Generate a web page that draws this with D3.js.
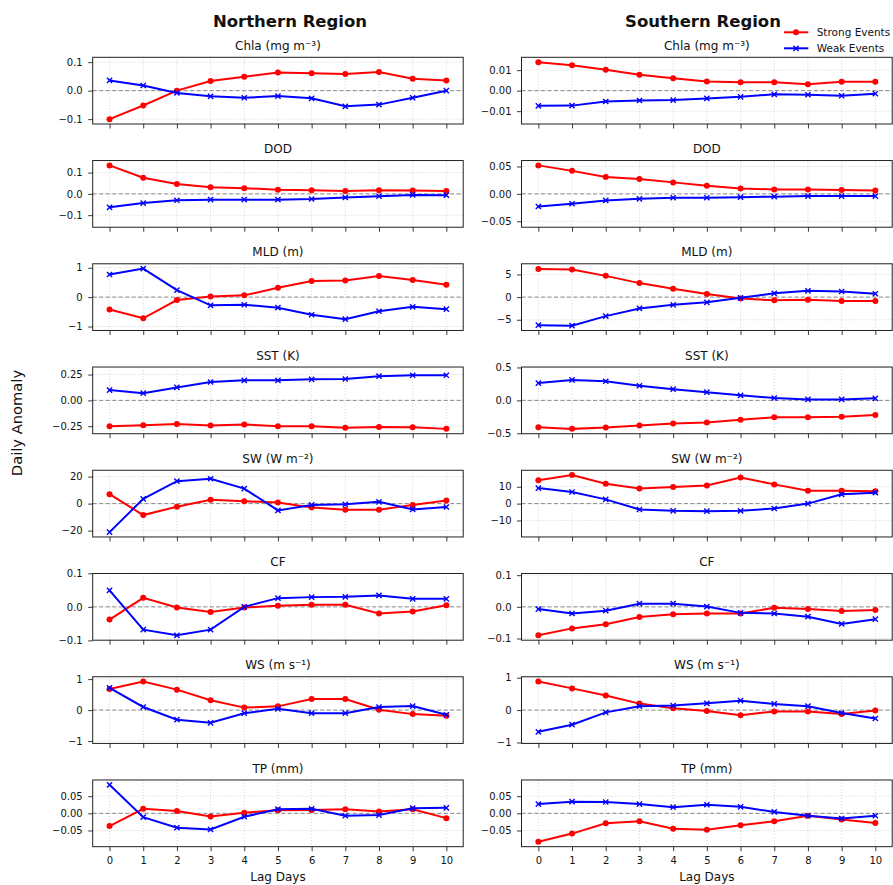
<!DOCTYPE html>
<html><head><meta charset="utf-8">
<script src="https://cdn.jsdelivr.net/npm/d3@7"></script>
<style>
body{margin:0;background:#fff}
text{font-family:"DejaVu Sans",sans-serif;fill:#111}
</style>
</head><body>
<svg id="chart" width="893" height="885"></svg>
<script>
// ---------- DATA ----------
const lags = [0,1,2,3,4,5,6,7,8,9,10];
const regions = ["Northern Region", "Southern Region"];
const seriesNames = ["Strong Events", "Weak Events"];
const variables = ["Chla (mg m\u207B\u00B3)", "DOD", "MLD (m)", "SST (K)", "SW (W m\u207B\u00B2)", "CF", "WS (m s\u207B\u00B9)", "TP (mm)"];

// Northern region
const chlaNorthStrong = [-0.100,-0.052,0.000,0.034,0.049,0.064,0.061,0.058,0.065,0.042,0.036];
const chlaNorthWeak   = [0.036,0.018,-0.008,-0.020,-0.025,-0.019,-0.027,-0.055,-0.049,-0.025,0.000];
const dodNorthStrong  = [0.134,0.076,0.046,0.031,0.027,0.020,0.017,0.014,0.017,0.016,0.014];
const dodNorthWeak    = [-0.063,-0.043,-0.030,-0.027,-0.027,-0.027,-0.024,-0.017,-0.011,-0.005,-0.006];
const mldNorthStrong  = [-0.42,-0.72,-0.10,0.02,0.06,0.32,0.55,0.57,0.72,0.58,0.42];
const mldNorthWeak    = [0.77,0.97,0.24,-0.28,-0.26,-0.36,-0.60,-0.75,-0.48,-0.33,-0.41];
const sstNorthStrong  = [-0.250,-0.240,-0.230,-0.243,-0.234,-0.250,-0.250,-0.266,-0.257,-0.260,-0.276];
const sstNorthWeak    = [0.100,0.070,0.125,0.178,0.194,0.194,0.204,0.207,0.234,0.243,0.243];
const swNorthStrong   = [7.0,-8.5,-2.3,2.8,1.8,0.8,-2.8,-4.5,-4.5,-1.0,2.3];
const swNorthWeak     = [-21.1,3.5,16.6,18.4,11.1,-5.0,-1.0,-0.5,1.3,-4.3,-2.5];
const cfNorthStrong   = [-0.038,0.027,-0.002,-0.015,-0.002,0.003,0.006,0.006,-0.020,-0.014,0.005];
const cfNorthWeak     = [0.049,-0.068,-0.085,-0.068,0.000,0.026,0.029,0.030,0.034,0.024,0.024];
const wsNorthStrong   = [0.68,0.92,0.66,0.32,0.08,0.12,0.36,0.36,0.01,-0.13,-0.18];
const wsNorthWeak     = [0.72,0.10,-0.31,-0.41,-0.10,0.04,-0.10,-0.10,0.10,0.13,-0.15];
const tpNorthStrong   = [-0.037,0.013,0.007,-0.009,0.002,0.009,0.010,0.012,0.005,0.012,-0.014];
const tpNorthWeak     = [0.083,-0.011,-0.042,-0.047,-0.010,0.012,0.013,-0.007,-0.005,0.015,0.016];

// Southern region
const chlaSouthStrong = [0.0139,0.0124,0.0102,0.0078,0.0060,0.0045,0.0041,0.0041,0.0031,0.0043,0.0043];
const chlaSouthWeak   = [-0.0074,-0.0073,-0.0053,-0.0048,-0.0046,-0.0038,-0.0030,-0.0018,-0.0020,-0.0025,-0.0015];
const dodSouthStrong  = [0.052,0.042,0.031,0.027,0.021,0.015,0.010,0.008,0.008,0.007,0.006];
const dodSouthWeak    = [-0.023,-0.018,-0.012,-0.009,-0.007,-0.007,-0.006,-0.005,-0.004,-0.004,-0.004];
const mldSouthStrong  = [6.2,6.1,4.7,3.1,1.85,0.7,-0.3,-0.7,-0.6,-0.85,-0.85];
const mldSouthWeak    = [-6.2,-6.3,-4.2,-2.5,-1.7,-1.15,-0.15,0.85,1.4,1.25,0.75];
const sstSouthStrong  = [-0.407,-0.433,-0.412,-0.380,-0.350,-0.335,-0.294,-0.258,-0.258,-0.247,-0.222];
const sstSouthWeak    = [0.263,0.310,0.290,0.222,0.170,0.124,0.077,0.036,0.015,0.015,0.031];
const swSouthStrong   = [13.9,16.9,11.8,9.0,9.8,10.8,15.5,11.4,7.6,7.6,7.3];
const swSouthWeak     = [9.2,6.9,2.5,-3.5,-4.3,-4.5,-4.3,-2.9,0.0,5.5,6.5];
const cfSouthStrong   = [-0.090,-0.068,-0.055,-0.032,-0.023,-0.021,-0.021,-0.003,-0.007,-0.013,-0.010];
const cfSouthWeak     = [-0.007,-0.021,-0.012,0.010,0.010,0.001,-0.019,-0.021,-0.031,-0.054,-0.039];
const wsSouthStrong   = [0.88,0.67,0.45,0.20,0.06,-0.03,-0.16,-0.04,-0.04,-0.12,-0.01];
const wsSouthWeak     = [-0.67,-0.45,-0.07,0.12,0.14,0.21,0.29,0.19,0.12,-0.09,-0.26];
const tpSouthStrong   = [-0.083,-0.059,-0.029,-0.023,-0.045,-0.048,-0.035,-0.023,-0.007,-0.018,-0.028];
const tpSouthWeak     = [0.027,0.034,0.033,0.027,0.018,0.025,0.019,0.004,-0.007,-0.015,-0.007];

// Y tick labels
const northTicks = [["\u22120.1","0.0","0.1"],["\u22120.1","0.0","0.1"],["\u22121","0","1"],["\u22120.25","0.00","0.25"],["\u221220","0","20"],["\u22120.1","0.0","0.1"],["\u22121","0","1"],["\u22120.05","0.00","0.05"]];
const southTicks = [["\u22120.01","0.00","0.01"],["\u22120.05","0.00","0.05"],["\u22125","0","5"],["\u22120.5","0.0","0.5"],["\u221210","0","10"],["\u22120.1","0.0","0.1"],["\u22121","0","1"],["\u22120.05","0.00","0.05"]];

const northStrong = [chlaNorthStrong,dodNorthStrong,mldNorthStrong,sstNorthStrong,swNorthStrong,cfNorthStrong,wsNorthStrong,tpNorthStrong];
const northWeak   = [chlaNorthWeak,dodNorthWeak,mldNorthWeak,sstNorthWeak,swNorthWeak,cfNorthWeak,wsNorthWeak,tpNorthWeak];
const southStrong = [chlaSouthStrong,dodSouthStrong,mldSouthStrong,sstSouthStrong,swSouthStrong,cfSouthStrong,wsSouthStrong,tpSouthStrong];
const southWeak   = [chlaSouthWeak,dodSouthWeak,mldSouthWeak,sstSouthWeak,swSouthWeak,cfSouthWeak,wsSouthWeak,tpSouthWeak];

// ---------- LAYOUT ----------
const svg = d3.select("#chart");
const colX = [[92.7, 463.2], [521.5, 892.2]];
const top0 = 57.3, stepY = 103.24, panelH = 66.7;
const RED = "#ff0000", BLUE = "#0000ff";
const toNum = s => +s.replace("\u2212","-");

function drawPanel(col, row, strong, weak, tickLabels) {
  const [x0, x1] = colX[col];
  const y0 = top0 + row * stepY, y1 = y0 + panelH;
  const x = d3.scaleLinear().domain([-0.5, 10.5]).range([x0, x1]);
  const m = d3.max(strong.concat(weak), v => Math.abs(v)) * 1.17;
  const y = d3.scaleLinear().domain([-m, m]).range([y1, y0]);
  const tv = tickLabels.map(toNum);
  const g = svg.append("g");

  // grid
  g.selectAll(".gx").data(lags).enter().append("line")
    .attr("x1", d => x(d)).attr("x2", d => x(d)).attr("y1", y0).attr("y2", y1)
    .attr("stroke", "#c8c8c8").attr("stroke-width", 0.8).attr("stroke-dasharray", "1,2");
  g.selectAll(".gy").data(tv).enter().append("line")
    .attr("x1", x0).attr("x2", x1).attr("y1", d => y(d)).attr("y2", d => y(d))
    .attr("stroke", "#c8c8c8").attr("stroke-width", 0.8).attr("stroke-dasharray", "1,2");
  // zero line
  g.append("line").attr("x1", x0).attr("x2", x1).attr("y1", y(0)).attr("y2", y(0))
    .attr("stroke", "#888").attr("stroke-width", 1).attr("stroke-dasharray", "4,2.5");

  // axes
  const ax = g.append("g").attr("transform", `translate(0,${y1})`)
    .call(d3.axisBottom(x).tickValues(lags).tickSize(4.5).tickPadding(5.5)
      .tickFormat(row === 7 ? d3.format("d") : () => ""));
  const ay = g.append("g").attr("transform", `translate(${x0},0)`)
    .call(d3.axisLeft(y).tickValues(tv).tickSize(4.5).tickPadding(5.5)
      .tickFormat((d, i) => tickLabels[i]));
  [ax, ay].forEach(a => {
    a.select(".domain").remove();
    a.selectAll("line").attr("stroke", "#222").attr("stroke-width", 0.9);
    a.selectAll("text").style("font-family", "DejaVu Sans").style("font-size", "10px").attr("fill", "#222");
  });

  // series
  const line = d3.line().x((d, i) => x(lags[i])).y(d => y(d));
  g.append("path").datum(strong).attr("d", line).attr("fill", "none")
    .attr("stroke", RED).attr("stroke-width", 2);
  g.selectAll(".ms").data(strong).enter().append("circle")
    .attr("cx", (d, i) => x(lags[i])).attr("cy", d => y(d)).attr("r", 3).attr("fill", RED);
  g.append("path").datum(weak).attr("d", line).attr("fill", "none")
    .attr("stroke", BLUE).attr("stroke-width", 2);
  const k = 2.6;
  g.selectAll(".mw").data(weak).enter().append("path")
    .attr("d", (d, i) => { const cx = x(lags[i]), cy = y(d);
      return `M${cx-k},${cy-k}L${cx+k},${cy+k}M${cx-k},${cy+k}L${cx+k},${cy-k}`; })
    .attr("stroke", BLUE).attr("stroke-width", 1.4).attr("fill", "none");

  // frame
  g.append("rect").attr("x", x0).attr("y", y0).attr("width", x1 - x0).attr("height", panelH)
    .attr("fill", "none").attr("stroke", "#222").attr("stroke-width", 1);

  // title
  g.append("text").attr("x", (x0 + x1) / 2).attr("y", y0 - 7.3).attr("text-anchor", "middle")
    .style("font-size", "12px").text(variables[row]);

  if (row === 7) {
    g.append("text").attr("x", (x0 + x1) / 2).attr("y", 881).attr("text-anchor", "middle")
      .style("font-size", "12px").text("Lag Days");
  }
}

for (let r = 0; r < 8; r++) {
  drawPanel(0, r, northStrong[r], northWeak[r], northTicks[r]);
  drawPanel(1, r, southStrong[r], southWeak[r], southTicks[r]);
}

// Region titles
svg.append("text").attr("x", 290).attr("y", 27).attr("text-anchor", "middle")
  .style("font-size", "16.5px").style("font-weight", "bold").text(regions[0]);
svg.append("text").attr("x", 703).attr("y", 27).attr("text-anchor", "middle")
  .style("font-size", "16.5px").style("font-weight", "bold").text(regions[1]);

// Y label
svg.append("text").attr("transform", "translate(22,423) rotate(-90)").attr("text-anchor", "middle")
  .style("font-size", "14.7px").text("Daily Anomaly");

// Legend
const leg = svg.append("g");
[[RED, 32.3], [BLUE, 48.3]].forEach(([c, ly], i) => {
  leg.append("line").attr("x1", 784).attr("x2", 808.3).attr("y1", ly).attr("y2", ly)
    .attr("stroke", c).attr("stroke-width", 2);
  if (i === 0) {
    leg.append("circle").attr("cx", 796).attr("cy", ly).attr("r", 3).attr("fill", c);
  } else {
    const k = 2.6;
    leg.append("path").attr("d", `M${796-k},${ly-k}L${796+k},${ly+k}M${796-k},${ly+k}L${796+k},${ly-k}`)
      .attr("stroke", c).attr("stroke-width", 1.4);
  }
  leg.append("text").attr("x", 816.7).attr("y", ly + 3.8).style("font-size", "10.5px").text(seriesNames[i]);
});
</script>
</body></html>
